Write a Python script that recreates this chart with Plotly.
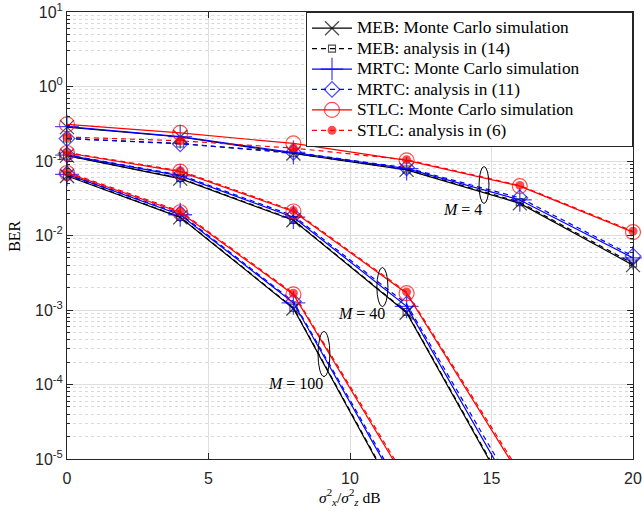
import math
import plotly.graph_objects as go

# SNR grid (dB) shared by all curves
snr_db = [0, 4, 8, 12, 16, 20]

# BER curves, one list per scheme and per number of antennas M
meb_sim = {
    4:   [0.285, 0.210, 0.126, 0.076, 0.027, 0.0040],
    40:  [0.118, 0.058, 0.0160, 9.2e-4, 1.8e-6, 3.5e-9],
    100: [0.063, 0.0175, 1.05e-3, 1.9e-6, 3.0e-9, 5.0e-12],
}
meb_ana = {
    4:   [0.200, 0.172, 0.127, 0.077, 0.028, 0.0042],
    40:  [0.118, 0.059, 0.0162, 9.4e-4, 1.9e-6, 3.8e-9],
    100: [0.064, 0.0177, 1.07e-3, 2.0e-6, 3.2e-9, 5.5e-12],
}
mrtc_sim = {
    4:   [0.290, 0.212, 0.130, 0.079, 0.030, 0.0050],
    40:  [0.120, 0.063, 0.0176, 1.12e-3, 2.5e-6, 5.5e-9],
    100: [0.066, 0.0190, 1.25e-3, 2.9e-6, 6.0e-9, 1.2e-11],
}
mrtc_ana = {
    4:   [0.200, 0.170, 0.131, 0.081, 0.032, 0.0053],
    40:  [0.121, 0.065, 0.0184, 1.20e-3, 3.0e-6, 7.0e-9],
    100: [0.067, 0.0196, 1.30e-3, 3.2e-6, 7.0e-9, 1.5e-11],
}
stlc_sim = {
    4:   [0.310, 0.238, 0.172, 0.102, 0.046, 0.0111],
    40:  [0.128, 0.072, 0.0210, 1.68e-3, 6.0e-6, 2.0e-8],
    100: [0.069, 0.0205, 1.62e-3, 5.0e-6, 1.5e-8, 4.5e-11],
}
stlc_ana = {
    4:   [0.210, 0.187, 0.149, 0.104, 0.047, 0.0114],
    40:  [0.130, 0.074, 0.0216, 1.75e-3, 6.6e-6, 2.3e-8],
    100: [0.071, 0.0212, 1.68e-3, 5.6e-6, 1.8e-8, 5.5e-11],
}
antenna_counts = [4, 40, 100]

# Axis ticks
x_ticks = [0, 5, 10, 15, 20]
y_ticks = [1e-5, 1e-4, 1e-3, 1e-2, 1e-1, 1e0, 1e1]
y_tick_text = ["10<sup>-5</sup>", "10<sup>-4</sup>", "10<sup>-3</sup>", "10<sup>-2</sup>",
               "10<sup>-1</sup>", "10<sup>0</sup>", "10<sup>1</sup>"]
y_minor = [m * 10.0 ** e for e in range(-5, 1) for m in range(2, 10)]

# Curve group labels: (text, x in dB, BER)
group_labels = [("<i>M</i> = 4", 13.96, 0.0220),
                ("<i>M</i> = 40", 10.42, 9.1e-4),
                ("<i>M</i> = 100", 8.09, 1.02e-4)]
# Ellipses around each group: (x0, x1, BER low, BER high)
group_ellipses = [(14.56, 14.91, 0.0269, 0.0843),
                  (10.95, 11.34, 1.11e-3, 3.72e-3),
                  (8.87, 9.29, 1.28e-4, 5.14e-4)]

Y_MIN, Y_MAX = 1e-5, 1e1

series = [
    ("MEB: Monte Carlo simulation", meb_sim, "#000000", "solid",
     dict(symbol="x-thin-open", size=14, width=1.3)),
    ("MEB: analysis in (14)", meb_ana, "#000000", "5px,4px",
     dict(symbol="square-open", size=7, width=1.1)),
    ("MRTC: Monte Carlo simulation", mrtc_sim, "#0000FF", "solid",
     dict(symbol="cross-thin-open", size=17, width=1.3)),
    ("MRTC: analysis in (11)", mrtc_ana, "#0000FF", "5px,4px",
     dict(symbol="diamond-open", size=12, width=1.2)),
    ("STLC: Monte Carlo simulation", stlc_sim, "#FF0000", "solid",
     dict(symbol="circle-open", size=15, width=1.2)),
    ("STLC: analysis in (6)", stlc_ana, "#FF0000", "5px,4px",
     dict(symbol="circle", size=9, width=0)),
]

serif = "Liberation Serif, Times New Roman, serif"
# legend entries: larger text than the row pitch, with trailing room like a boxed legend
legend_span = '<span style="font-size:17.3px">{}</span>' + "&nbsp;" * 14

fig = go.Figure()
for name, data, color, dash, mk in series:
    for i, m in enumerate(antenna_counts):
        ber = data[m]
        # markers only where the point lies inside the visible BER range
        sizes = [mk["size"] if Y_MIN <= v <= Y_MAX else 0 for v in ber]
        fig.add_trace(go.Scatter(
            x=snr_db, y=ber, mode="lines+markers",
            name=legend_span.format(name),
            legendgroup=name, showlegend=(i == 0),
            line=dict(color=color, width=1.2, dash=dash),
            marker=dict(symbol=mk["symbol"], size=sizes, color=color,
                        line=dict(width=mk["width"], color=color)),
            cliponaxis=False,
        ))

grid_major = "#dedede"
grid_minor = "#dadada"
axis_color = "#262626"

fig.update_xaxes(
    range=[0, 20], tickmode="array", tickvals=x_ticks,
    ticks="inside", ticklen=6, tickcolor=axis_color,
    showline=True, linecolor=axis_color, linewidth=1, mirror="allticks",
    showgrid=True, gridcolor=grid_major, gridwidth=1,
    zeroline=False, automargin=False, ticklabelstandoff=5,
    tickfont=dict(family="Liberation Sans, Arial", size=16, color=axis_color),
)
fig.update_yaxes(
    type="log", range=[-5, 1], tickmode="array", tickvals=y_ticks, ticktext=y_tick_text,
    ticks="inside", ticklen=6, tickcolor=axis_color,
    showline=True, linecolor=axis_color, linewidth=1, mirror="allticks",
    showgrid=True, gridcolor=grid_major, gridwidth=1,
    minor=dict(tickmode="array", tickvals=y_minor, ticks="inside", ticklen=3,
               tickcolor=axis_color, showgrid=True, gridcolor=grid_minor,
               griddash="dot", gridwidth=1),
    zeroline=False, automargin=False,
    tickfont=dict(family="Liberation Sans, Arial", size=16, color=axis_color),
)

annotations = []
for text, xd, yd in group_labels:
    annotations.append(dict(x=xd, y=math.log10(yd), xref="x", yref="y", text=text,
                            showarrow=False, font=dict(family=serif, size=16, color="#000000")))
annotations.append(dict(x=0, y=0.497, xref="paper", yref="paper", xshift=-52,
                        xanchor="center", yanchor="middle",
                        text="BER", textangle=-90, showarrow=False,
                        font=dict(family=serif, size=16, color="#000000")))
annotations.append(dict(x=0.5, y=0, xref="paper", yref="paper", yshift=-38,
                        xanchor="center", yanchor="middle",
                        text="<i>σ</i><sup>2</sup><sub><i>x</i></sub>/<i>σ</i><sup>2</sup><sub><i>z</i></sub> dB",
                        showarrow=False, font=dict(family=serif, size=15.5, color="#000000")))

shapes = []
for x0, x1, ylo, yhi in group_ellipses:
    shapes.append(dict(type="circle", xref="x", yref="y", x0=x0, x1=x1, y0=ylo, y1=yhi,
                       line=dict(color="#000000", width=1)))

fig.update_layout(
    width=642, height=517,
    margin=dict(l=67, r=9, t=12, b=58),
    paper_bgcolor="white", plot_bgcolor="white",
    showlegend=True,
    legend=dict(x=1, y=1, xanchor="right", yanchor="top",
                bgcolor="white", bordercolor=axis_color, borderwidth=1,
                font=dict(family=serif, size=13.4, color="#000000"),
                tracegroupgap=0, itemwidth=40),
    annotations=annotations,
    shapes=shapes,
)

fig.write_html("out.html")
